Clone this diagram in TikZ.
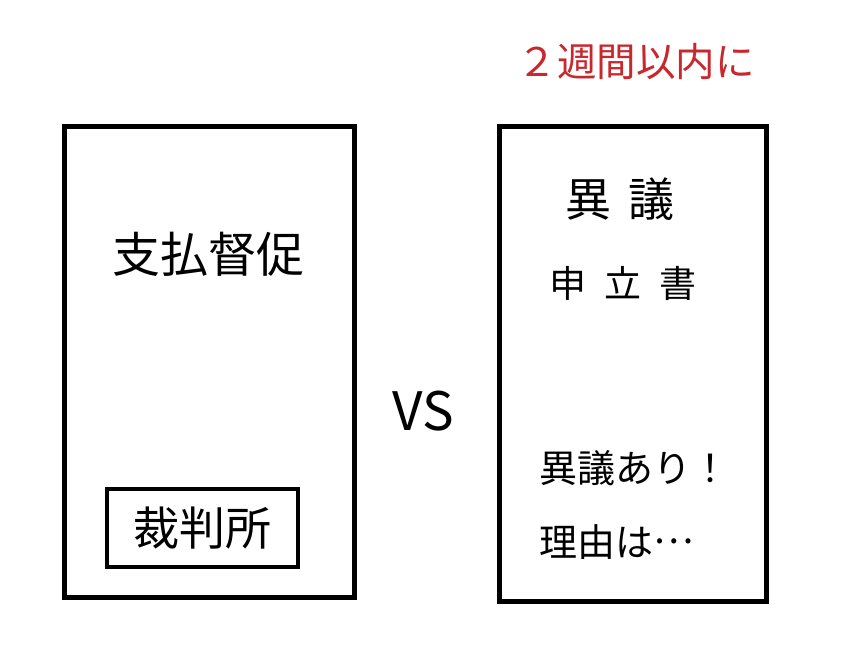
\documentclass[tikz,border=0pt]{standalone}
\usepackage{fontspec}
\setmainfont{Noto Sans CJK JP}
\usetikzlibrary{positioning}
\definecolor{deadline}{RGB}{200,40,45}
\def \gap {\hspace{18pt}}

\begin{document}
\begin{tikzpicture}[x=1pt,y=-1pt,inner sep=0pt,
    paper/.style={draw,line width=5pt},
    txt/.style={font=\fontsize{#1}{#1}\selectfont,anchor=center}]
    \useasboundingbox (0,0) rectangle (850,665);
    % the two documents
    \node[paper,minimum width=290pt,minimum height=471pt] (order) at (209,361.5) {};
    \node[paper,minimum width=267pt,minimum height=475pt] (objection) at (632.5,363.5) {};
    \node[paper,line width=4.5pt,minimum width=191pt,minimum height=78pt] (court) at (202.5,528) {};
    % texts
    \node[txt=48] (shiharai) at (208,254) {支払督促};
    \node[txt=46] at (court.center) {裁判所};
    \node[txt=53] (vs) at (423,411) {VS};
    \node[txt=39.5,text=deadline] (limit) at (636,62) {２週間以内に};
    \node[txt=46] (igi) at (620,199) {異\gap 議};
    \node[txt=37] (sho) at (623,283) {申\gap 立\gap 書};
    \node[txt=38,anchor=west] (ari) at (539,468) {異議あり！};
    \node[txt=38,below=38pt of ari.south west,anchor=north west] (riyu) {理由は\raisebox{0.32em}{…}};
  \end{tikzpicture}
\end{document}
